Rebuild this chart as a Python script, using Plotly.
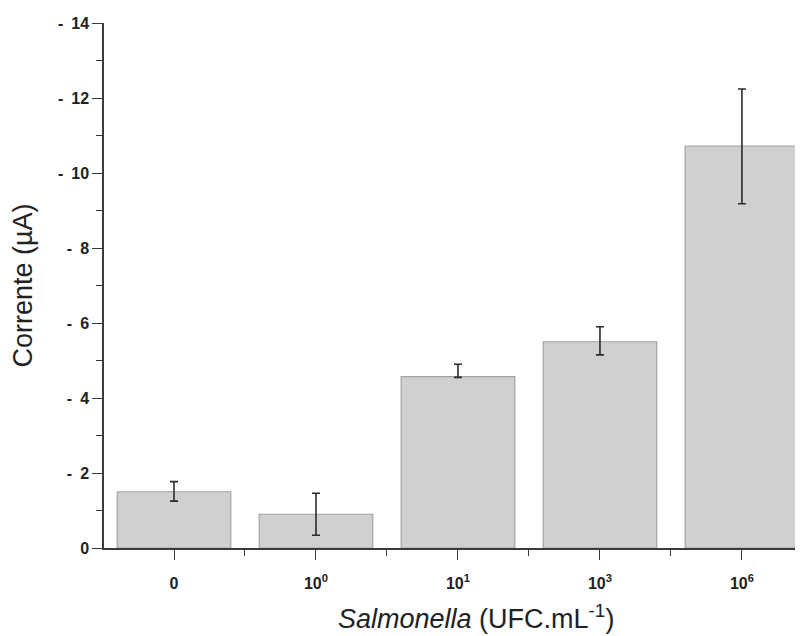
import plotly.graph_objects as go

# === Data ===
categories = ['0', '10<sup>0</sup>', '10<sup>1</sup>', '10<sup>3</sup>', '10<sup>6</sup>']
current = [1.50, 0.90, 4.57, 5.50, 10.72]
err_plus = [0.27, 0.56, 0.33, 0.40, 1.52]
err_minus = [0.25, 0.56, 0.02, 0.35, 1.54]
y_ticks = [0, 2, 4, 6, 8, 10, 12, 14]
y_ticktext = ['0'] + ['-\u2002%d' % v for v in y_ticks[1:]]
x_title = '<i>Salmonella</i> (UFC.mL<sup>-1</sup>)'
y_title = 'Corrente (\u00b5A)'

# === Style ===
font_family = 'Liberation Sans, Arial, sans-serif'
bar_fill = '#d0d0d0'
bar_edge = '#a3a3a3'
err_color = '#2b2b2b'
axis_color = '#3a3a3a'
text_color = '#222222'
tick_size = 16

def tick_label(t):
    return '<b>%s</b>' % t

fig = go.Figure()

fig.add_trace(go.Bar(
    x=list(range(len(categories))),
    y=current,
    width=0.8,
    marker=dict(color=bar_fill, line=dict(color=bar_edge, width=1.2)),
    error_y=dict(type='data', symmetric=False, array=err_plus, arrayminus=err_minus,
                 color=err_color, thickness=1.6, width=4),
    showlegend=False,
))

# x title sits a little right of the plot centre in the original
fig.add_annotation(
    text=x_title, xref='paper', yref='paper', x=0.532, y=-0.131,
    xanchor='center', yanchor='middle', showarrow=False,
    font=dict(size=27, color=text_color),
)

# page body has an 8px margin, so the figure is shrunk and the margins shifted by 8px
fig.update_layout(
    width=795, height=628,
    margin=dict(l=96, r=0, t=15, b=88),
    paper_bgcolor='white', plot_bgcolor='white',
    font=dict(family=font_family, color=text_color),
    xaxis=dict(
        range=[-0.493, 4.43],
        automargin=False,
        tickmode='array',
        tickvals=list(range(len(categories))),
        ticktext=[tick_label(c) for c in categories],
        tickfont=dict(size=tick_size, color=text_color),
        ticks='outside', ticklen=10, tickwidth=1.2, tickcolor=axis_color,
        minor=dict(tickmode='linear', tick0=0.5, dtick=1, ticks='outside',
                   ticklen=6, tickwidth=1.2, tickcolor=axis_color),
        showline=True, linecolor=axis_color, linewidth=1.5,
        showgrid=False, zeroline=False,
        ticklabelstandoff=10,
    ),
    yaxis=dict(
        range=[0, 14],
        automargin=False,
        tickmode='array',
        tickvals=y_ticks,
        ticktext=[tick_label(t) for t in y_ticktext],
        tickfont=dict(size=tick_size, color=text_color),
        ticks='outside', ticklen=10, tickwidth=1.2, tickcolor=axis_color,
        minor=dict(tickmode='linear', tick0=1, dtick=2, ticks='outside',
                   ticklen=6, tickwidth=1.2, tickcolor=axis_color),
        showline=True, linecolor=axis_color, linewidth=1.5,
        showgrid=False, zeroline=False,
        ticklabelstandoff=0,
        title=dict(text=y_title, font=dict(size=27, color=text_color), standoff=18),
    ),
)

fig.write_html("out.html")
